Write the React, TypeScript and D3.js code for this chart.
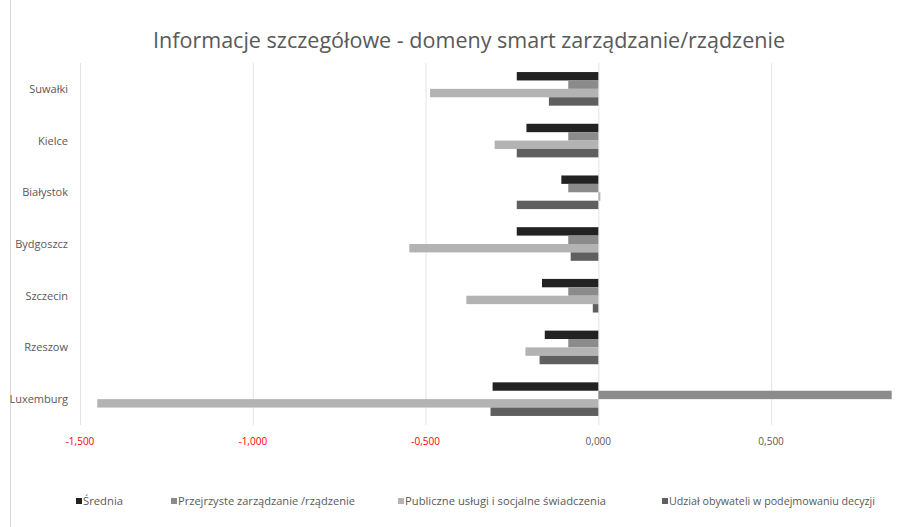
import React from "react";
import * as d3 from "d3";

const categories = ["Suwałki", "Kielce", "Białystok", "Bydgoszcz", "Szczecin", "Rzeszow", "Luxemburg"];
const seriesNames = [
  "Średnia",
  "Przejrzyste zarządzanie /rządzenie",
  "Publiczne usługi i socjalne świadczenia",
  "Udział obywateli w podejmowaniu decyzji",
];
const srednia = [-0.236, -0.208, -0.107, -0.236, -0.163, -0.155, -0.306];
const przejrzyste = [-0.087, -0.087, -0.087, -0.087, -0.087, -0.087, 0.849];
const publiczne = [-0.487, -0.3, 0.006, -0.547, -0.382, -0.211, -1.45];
const udzial = [-0.143, -0.236, -0.236, -0.08, -0.016, -0.17, -0.312];
const seriesValues = [srednia, przejrzyste, publiczne, udzial];
const xTicks = [-1.5, -1.0, -0.5, 0, 0.5];

const colors = ["#222222", "#8b8b8b", "#b3b3b3", "#5f5f5f"];
const legendLayout = [
  { x: 76, w: 40 },
  { x: 171, w: 177 },
  { x: 398, w: 201 },
  { x: 662, w: 206 },
];

const W = 921;
const H = 527;
const font = "'Open Sans', 'Noto Sans', sans-serif";

export default function App() {
  const x = d3.scaleLinear().domain([-1.5, 0.5]).range([80, 771.1]);
  const y = d3
    .scaleBand<string>()
    .domain(categories)
    .range([63, 425])
    .paddingInner(0.35)
    .paddingOuter(0.175);
  const ys = d3
    .scaleBand<number>()
    .domain(d3.range(seriesNames.length))
    .range([0, y.bandwidth()]);
  const fmt = (v: number) => d3.format(".3f")(v).replace(".", ",").replace("−", "-");

  return (
    <svg width={W} height={H} style={{ position: "absolute", left: 0, top: 0, background: "#fff" }}>
      <rect x={0} y={0} width={W} height={H} fill="#fff" />
      <line x1={10.5} x2={10.5} y1={0} y2={H} stroke="#d9d9d9" />
      <text
        x={153}
        y={48}
        fontFamily={font}
        fontSize={22}
        fill="#595959"
        textLength={632}
        lengthAdjust="spacingAndGlyphs"
      >
        Informacje szczegółowe - domeny smart zarządzanie/rządzenie
      </text>
      {xTicks.map((t) => (
        <line key={"g" + t} x1={x(t) + 0.5} x2={x(t) + 0.5} y1={63} y2={425} stroke="#e3e3e3" />
      ))}
      {seriesValues.map((vals, si) =>
        vals.map((v, ci) => {
          const x0 = Math.min(x(0), x(v));
          const w = Math.abs(x(v) - x(0));
          return (
            <rect
              key={si + "-" + ci}
              x={x0}
              y={(y(categories[ci]) as number) + (ys(si) as number)}
              width={Math.max(w, 1.5)}
              height={ys.bandwidth()}
              fill={colors[si]}
            />
          );
        })
      )}
      {xTicks.map((t) => (
        <text
          key={"t" + t}
          x={x(t)}
          y={445}
          textAnchor="middle"
          fontFamily={font}
          fontSize={10}
          fill={t < 0 ? "#ff0000" : "#595959"}
        >
          {fmt(t)}
        </text>
      ))}
      {categories.map((c) => (
        <text
          key={c}
          x={68}
          y={(y(c) as number) + y.bandwidth() / 2 + 4}
          textAnchor="end"
          fontFamily={font}
          fontSize={11}
          fill="#595959"
        >
          {c}
        </text>
      ))}
      {seriesNames.map((s, i) => (
        <g key={s}>
          <rect x={legendLayout[i].x} y={498} width={6} height={6} fill={colors[i]} />
          <text
            x={legendLayout[i].x + 7}
            y={505}
            fontFamily={font}
            fontSize={10}
            fill="#595959"
            textLength={legendLayout[i].w}
            lengthAdjust="spacingAndGlyphs"
          >
            {s}
          </text>
        </g>
      ))}
    </svg>
  );
}
